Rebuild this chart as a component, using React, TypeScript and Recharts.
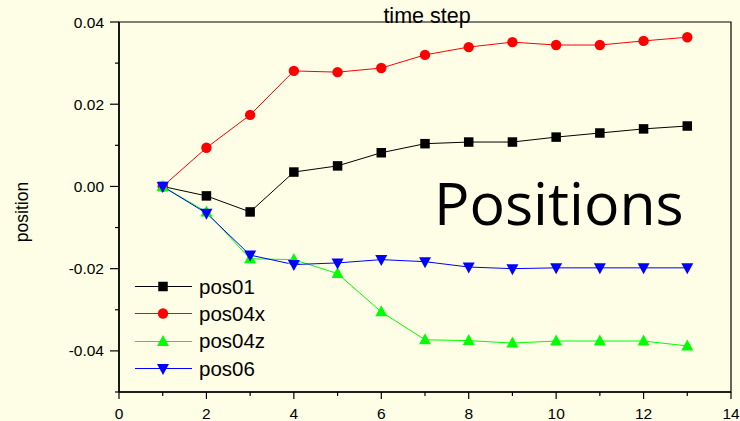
import React from 'react';
import { LineChart, Line, XAxis, YAxis, ReferenceArea, Legend } from 'recharts';

const steps = [1, 2, 3, 4, 5, 6, 7, 8, 9, 10, 11, 12, 13];
const pos01 = [0, -0.0023, -0.0062, 0.0035, 0.005, 0.0082, 0.0104, 0.0108, 0.0108, 0.012, 0.013, 0.014, 0.0147];
const pos04x = [0, 0.0094, 0.0174, 0.0281, 0.0278, 0.0288, 0.032, 0.0339, 0.0351, 0.0344, 0.0344, 0.0354, 0.0363];
const pos04z = [0, -0.0062, -0.0176, -0.0178, -0.0212, -0.0305, -0.0373, -0.0375, -0.0381, -0.0376, -0.0376, -0.0376, -0.0388];
const pos06 = [0, -0.0065, -0.0167, -0.019, -0.0186, -0.0178, -0.0183, -0.0196, -0.02, -0.0198, -0.0198, -0.0198, -0.0198];

const xTicks = [0, 1, 2, 3, 4, 5, 6, 7, 8, 9, 10, 11, 12, 13, 14];
const yTicks = [-0.05, -0.04, -0.03, -0.02, -0.01, 0, 0.01, 0.02, 0.03, 0.04];

const data = steps.map((s, i) => ({ step: s, pos01: pos01[i], pos04x: pos04x[i], pos04z: pos04z[i], pos06: pos06[i] }));

const series = [
  { key: 'pos01', color: '#000000', shape: 'square' },
  { key: 'pos04x', color: '#ff0000', shape: 'circle' },
  { key: 'pos04z', color: '#00ff00', shape: 'triangle' },
  { key: 'pos06', color: '#0000ff', shape: 'down' },
];

const FONT = '"Liberation Sans", Arial, sans-serif';
const BG = '#fefee6';

function Marker({ cx, cy, shape, color }: { cx: number; cy: number; shape: string; color: string }) {
  if (shape === 'square') return <rect x={cx - 4.75} y={cy - 4.75} width={9.5} height={9.5} fill={color} />;
  if (shape === 'circle') return <circle cx={cx} cy={cy} r={5.2} fill={color} />;
  if (shape === 'triangle')
    return <polygon points={`${cx},${cy - 6.5} ${cx - 6},${cy + 4.5} ${cx + 6},${cy + 4.5}`} fill={color} />;
  return <polygon points={`${cx},${cy + 6.5} ${cx - 6},${cy - 4.5} ${cx + 6},${cy - 4.5}`} fill={color} />;
}

const makeDot = (shape: string, color: string) => (props: any) => {
  const { cx, cy, index } = props;
  if (cx == null || cy == null) return <g key={`d-${shape}-${index}`} />;
  return (
    <g key={`d-${shape}-${index}`}>
      <Marker cx={cx} cy={cy} shape={shape} color={color} />
    </g>
  );
};

const XTick = (props: any) => {
  const { x, y, payload } = props;
  const v = payload.value;
  const major = Math.round(v) % 2 === 0;
  return (
    <g>
      <line x1={x} y1={y} x2={x} y2={y + (major ? 7 : 4)} stroke="#000" strokeWidth={1.2} />
      {major && (
        <text x={x} y={y + 27} textAnchor="middle" fontSize={15.5} fontFamily={FONT} fill="#000">
          {v}
        </text>
      )}
    </g>
  );
};

const YTick = (props: any) => {
  const { x, y, payload } = props;
  const v = payload.value;
  const major = Math.abs(Math.round(v * 100)) % 2 === 0;
  return (
    <g>
      <line x1={x} y1={y} x2={x - (major ? 9 : 4)} y2={y} stroke="#000" strokeWidth={1.2} />
      {major && (
        <text x={x - 15} y={y + 5.5} textAnchor="end" fontSize={15.5} fontFamily={FONT} fill="#000">
          {v.toFixed(2)}
        </text>
      )}
    </g>
  );
};

const LegendContent = () => (
  <div style={{ fontFamily: FONT }}>
    {series.map((s) => (
      <div key={s.key} style={{ display: 'flex', alignItems: 'center', height: 27.3 }}>
        <svg width={64} height={27} style={{ display: 'block' }}>
          <line x1={0} y1={13.5} x2={57} y2={13.5} stroke={s.color} strokeWidth={1} />
          <Marker cx={28} cy={13.5} shape={s.shape} color={s.color} />
        </svg>
        <span style={{ fontSize: 20.5, color: '#000', lineHeight: '27px', marginTop: -1 }}>{s.key}</span>
      </div>
    ))}
  </div>
);

export default function App() {
  return (
    <div style={{ position: 'absolute', left: 0, top: 0, width: 740, height: 421, background: BG, overflow: 'hidden' }}>
      <LineChart width={740} height={421} data={data} margin={{ top: 22, right: 9, bottom: 0, left: 59 }}>
        <XAxis
          dataKey="step"
          type="number"
          domain={[0, 14]}
          ticks={xTicks}
          interval={0}
          height={29}
          tickSize={0}
          tickMargin={0}
          tickLine={false}
          axisLine={{ stroke: '#000', strokeWidth: 1.5 }}
          tick={<XTick />}
          allowDataOverflow
        />
        <YAxis
          type="number"
          domain={[-0.05, 0.04]}
          ticks={yTicks}
          interval={0}
          width={60}
          tickSize={0}
          tickMargin={0}
          tickLine={false}
          axisLine={{ stroke: '#000', strokeWidth: 1.5 }}
          tick={<YTick />}
          allowDataOverflow
        />
        <ReferenceArea x1={0} x2={14} y1={-0.05} y2={0.04} fill="none" stroke="#000" strokeWidth={1.2} />
        {series.map((s) => (
          <Line
            key={s.key}
            dataKey={s.key}
            stroke={s.color}
            strokeWidth={1}
            dot={makeDot(s.shape, s.color)}
            activeDot={false}
            isAnimationActive={false}
          />
        ))}
        <Legend
          layout="vertical"
          align="center"
          verticalAlign="middle"
          content={<LegendContent />}
          wrapperStyle={{ left: 135, top: 273, width: 160, height: 110 }}
        />
      </LineChart>
      <svg width={740} height={421} style={{ position: 'absolute', left: 0, top: 0, pointerEvents: 'none' }}>
        <text x={427} y={23} textAnchor="middle" fontSize={21.5} fontFamily={FONT} fill="#000">
          time step
        </text>
        <text
          x={28}
          y={212}
          textAnchor="middle"
          fontSize={17.5}
          fontFamily={FONT}
          fill="#000"
          transform="rotate(-90 28 212)"
        >
          position
        </text>
        <text x={434} y={225} fontSize={59} fontFamily='"Open Sans", sans-serif' fill="#000">
          Positions
        </text>
      </svg>
    </div>
  );
}
